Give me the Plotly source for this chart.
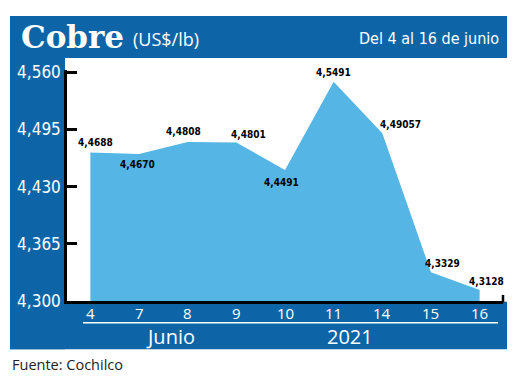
import plotly.graph_objects as go

dias = ["4", "7", "8", "9", "10", "11", "14", "15", "16"]
precios = [4.4688, 4.4670, 4.4808, 4.4801, 4.4491, 4.5491, 4.49057, 4.3329, 4.3128]
etiquetas = ["4,4688", "4,4670", "4,4808", "4,4801", "4,4491", "4,5491", "4,49057", "4,3329", "4,3128"]
y_ticks = [4.300, 4.365, 4.430, 4.495, 4.560]
y_ticktext = ["4,300", "4,365", "4,430", "4,495", "4,560"]

# label offsets (xshift, yshift, yanchor)
offsets = [(5, 3, "bottom"), (-2, -3, "top"), (-4, 3, "bottom"), (12, 1, "bottom"),
           (-4, -5, "top"), (0, 2, "bottom"), (18, 1, "bottom"), (12, 1, "bottom"), (7, 1, "bottom")]

# the page places the figure 8px in from the top-left corner
OFF = 8
W, H = 520 - OFF, 385 - OFF
DARK = "#0D65A8"
LIGHT = "#55B5E4"
COND = "DejaVu Sans Condensed, DejaVu Sans"

def px(x):
    return (x - OFF) / W

def py(y):
    return 1 - (y - OFF) / H

fig = go.Figure()
fig.add_trace(go.Scatter(
    x=dias, y=precios, mode="lines", fill="tozeroy",
    line=dict(color=LIGHT, width=0), fillcolor=LIGHT, hoverinfo="skip",
))

shapes = []
def rect(x0, y0, x1, y1, color):
    shapes.append(dict(type="rect", xref="paper", yref="paper",
                       x0=px(x0), x1=px(x1), y0=py(y1), y1=py(y0),
                       fillcolor=color, line=dict(width=0), layer="below"))

rect(10, 8, 507, 52, DARK)
rect(10, 8, 65, 358, DARK)
rect(10, 308, 507, 358, DARK)
shapes.append(dict(type="line", xref="paper", yref="paper",
                   x0=px(83), x1=px(498), y0=py(330), y1=py(330),
                   line=dict(color="white", width=1.5)))
shapes.append(dict(type="line", xref="paper", yref="paper",
                   x0=px(503), x1=px(503), y0=py(309), y1=py(301),
                   line=dict(color="black", width=2.5)))

annotations = []
for i, (lab, val) in enumerate(zip(etiquetas, precios)):
    xs, ys, ya = offsets[i]
    annotations.append(dict(x=i, y=val, xref="x", yref="y", text=lab,
                            showarrow=False, xshift=xs, yshift=ys, yanchor=ya,
                            xanchor="center",
                            font=dict(family=COND, size=10, color="black", weight="bold")))
# day labels under the axis
for i, d in enumerate(dias):
    annotations.append(dict(x=i, y=py(320), xref="x", yref="paper", text=d,
                            showarrow=False, xanchor="center", yanchor="middle",
                            font=dict(family="Open Sans", size=15, color="white")))

def ptext(x, y, text, size, family, color="white", xanchor="left", weight="normal"):
    annotations.append(dict(x=px(x), y=py(y), xref="paper", yref="paper", text=text,
                            showarrow=False, xanchor=xanchor, yanchor="middle",
                            font=dict(family=family, size=size, color=color, weight=weight)))

ptext(19, 30, "Cobre", 31, "DejaVu Serif", weight="bold")
ptext(131, 32, "(US$/lb)", 18, "Open Sans")
ptext(501, 32, "Del 4 al 16 de junio", 16, COND, xanchor="right")
ptext(170, 345, "Junio", 20, "Open Sans", xanchor="center")
ptext(350, 345, "2021", 20, "Open Sans", xanchor="center")
ptext(10, 374, "Fuente: Cochilco", 14.5, "Open Sans", color="#222222")

fig.update_layout(
    width=W, height=H, margin=dict(l=0, r=0, t=0, b=0),
    paper_bgcolor="white", plot_bgcolor="rgba(0,0,0,0)",
    showlegend=False, shapes=shapes, annotations=annotations,
    xaxis=dict(type="category", domain=[px(67), px(503)], range=[-0.48, 8.48],
               showline=True, linecolor="black", linewidth=2.5, showgrid=False,
               zeroline=False, ticks="", showticklabels=False, fixedrange=True),
    yaxis=dict(domain=[py(307.5), py(65)], range=[4.3, 4.5622],
               tickvals=y_ticks, ticktext=y_ticktext,
               showline=True, linecolor="black", linewidth=2.5, showgrid=False,
               zeroline=False, ticks="inside", ticklen=10, tickwidth=2.5, tickcolor="black",
               tickfont=dict(family=COND, size=17, color="white")),
)

fig.write_html("out.html")
